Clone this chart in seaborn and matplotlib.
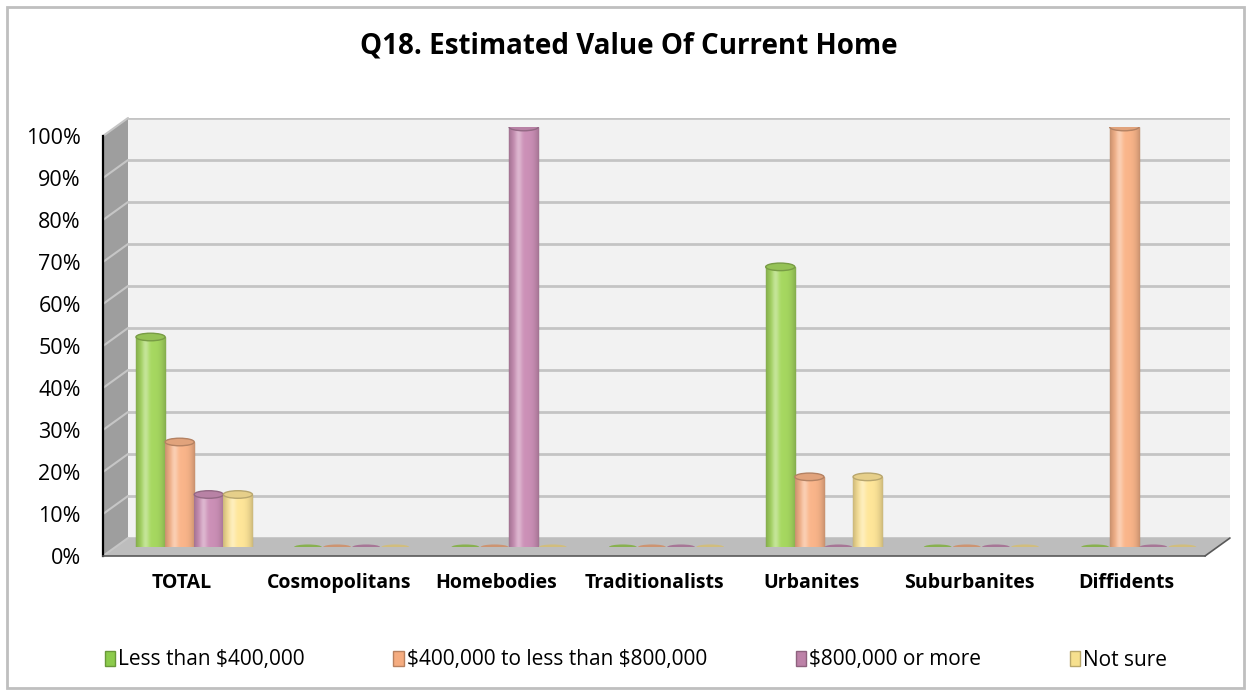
import numpy as np
import matplotlib
matplotlib.use("Agg")
import matplotlib.pyplot as plt
from matplotlib.patches import Polygon, Rectangle, Ellipse, Patch
from matplotlib.colors import to_rgb
import seaborn as sns
import pandas as pd

# chart data
categories = ['TOTAL', 'Cosmopolitans', 'Homebodies', 'Traditionalists',
              'Urbanites', 'Suburbanites', 'Diffidents']
series = ['Less than $400,000', '$400,000 to less than $800,000',
          '$800,000 or more', 'Not sure']
less_400k = [0.50, 0, 0, 0, 0.667, 0, 0]
from_400k_to_800k = [0.25, 0, 0, 0, 0.167, 0, 1.00]
over_800k = [0.125, 0, 1.00, 0, 0, 0, 0]
not_sure = [0.125, 0, 0, 0, 0.167, 0, 0]
y_ticks = [0, 0.1, 0.2, 0.3, 0.4, 0.5, 0.6, 0.7, 0.8, 0.9, 1.0]
y_tick_labels = ['0%', '10%', '20%', '30%', '40%', '50%', '60%', '70%',
                 '80%', '90%', '100%']

bar_colors = ['#A6D860', '#FAB58A', '#CC90B7', '#FFE699']
legend_colors = ['#8CCB4C', '#F5AC80', '#BD82A8', '#F6E08E']

df = pd.DataFrame({
    'category': categories * 4,
    'series': [s for s in series for _ in categories],
    'value': less_400k + from_400k_to_800k + over_800k + not_sure,
})

sns.set_theme(style='white')
plt.rcParams['font.family'] = ['Open Sans', 'DejaVu Sans']
plt.rcParams['text.parse_math'] = False  # keep the $ signs literal
plt.rcParams['text.color'] = 'black'

W, H = 1251, 695
fig = plt.figure(figsize=(W / 100, H / 100), dpi=100)
fig.patch.set_facecolor('white')


def px_axes(left, top, right, bottom, **kw):
    return fig.add_axes([left / W, 1 - bottom / H, (right - left) / W, (bottom - top) / H], **kw)


# 3d box geometry (pixels): front plane, back wall, depth offset
fx0, fx1, fy0, fy1 = 103, 1205, 556, 136
dx, dy = 25, -18

# back wall with gridlines
ax_back = px_axes(fx0 + dx, fy1 + dy, fx1 + dx, fy0 + dy, zorder=0)
ax_back.set_facecolor('#F2F2F2')
ax_back.set_xlim(0, 1)
ax_back.set_ylim(0, 1)
ax_back.set_yticks(y_ticks)
ax_back.set_xticks([])
ax_back.tick_params(length=0, labelleft=False)
ax_back.grid(axis='y', color='#C4C4C4', linewidth=2)
for s in ax_back.spines.values():
    s.set_visible(False)

# overlay in pixel coordinates: side wall, floor, outer border
ov = fig.add_axes([0, 0, 1, 1], zorder=1)
ov.set_xlim(0, W)
ov.set_ylim(H, 0)
ov.axis('off')
ov.add_patch(Polygon([(fx0, fy1), (fx0 + dx, fy1 + dy), (fx0 + dx, fy0 + dy), (fx0, fy0)],
                     closed=True, facecolor='#9E9E9E', edgecolor='none'))
for v in y_ticks:
    yf = fy0 - (fy0 - fy1) * v
    ov.plot([fx0, fx0 + dx], [yf, yf + dy], color='#C6C6C6', lw=1.5)
ov.add_patch(Polygon([(fx0, fy0), (fx0 + dx, fy0 + dy), (fx1 + dx, fy0 + dy), (fx1, fy0)],
                     closed=True, facecolor='#BDBDBD', edgecolor='none'))
ov.plot([fx1, fx1 + dx], [fy0, fy0 + dy], color='#595959', lw=1.2)
ov.add_patch(Rectangle((7, 7), 1237, 681, facecolor='none', edgecolor='#BFBFBF', lw=2))

# bars at mid depth
ax = px_axes(fx0 + dx / 2, fy1 + dy / 2, fx1 + dx / 2, fy0 + dy / 2, zorder=2)
ax.patch.set_alpha(0)
sns.barplot(data=df, x='category', y='value', hue='series', palette=bar_colors,
            width=0.74, saturation=1, legend=False, ax=ax)

for p in list(ax.patches):
    fc = np.array(to_rgb(p.get_facecolor()))
    x0, w, h = p.get_x(), p.get_width(), p.get_height()
    if h <= 0:
        p.set_visible(False)
        ax.add_patch(Ellipse((x0 + w / 2, 0), w * 0.95, 0.012,
                             facecolor=fc * 0.82, edgecolor='none', zorder=3))
        continue
    p.set_edgecolor(fc * 0.72)
    p.set_linewidth(1)
    t = np.linspace(0, 1, 80)
    shade = 0.80 + 0.20 * (1 - np.abs(2 * t - 1) ** 3)
    col = fc[None, :] * shade[:, None]
    hl = 0.35 * np.exp(-((t - 0.32) / 0.12) ** 2)
    col = col + (1 - col) * hl[:, None]
    im = ax.imshow(col[None, :, :], extent=(x0, x0 + w, 0, h), aspect='auto',
                   zorder=p.get_zorder() + 0.1)
    im.set_clip_path(p)
    ax.add_patch(Ellipse((x0 + w / 2, h), w, 0.018, facecolor=fc * 0.9,
                         edgecolor=fc * 0.72, lw=1, zorder=p.get_zorder() + 0.2))

ax.set_xlim(-0.5, len(categories) - 0.5)
ax.set_ylim(0, 1)
ax.axis('off')

# front axis with ticks and labels
ax_f = px_axes(fx0, fy1, fx1, fy0, zorder=3)
ax_f.patch.set_alpha(0)
ax_f.set_xlim(-0.5, len(categories) - 0.5)
ax_f.set_ylim(0, 1)
ax_f.set_yticks(y_ticks)
ax_f.set_yticklabels(y_tick_labels, fontsize=15.5, color='#000000')
ax_f.set_xticks(range(len(categories)))
ax_f.set_xticklabels(categories, fontsize=14, fontweight='bold', color='#000000')
ax_f.set_xticks(np.arange(-0.5, len(categories), 1), minor=True)
ax_f.tick_params(axis='x', which='major', length=0, pad=12)
ax_f.tick_params(axis='x', which='minor', length=6, width=1, color='#595959', direction='out')
ax_f.tick_params(axis='y', length=6, width=1, color='#404040', direction='out', pad=10)
ax_f.spines['top'].set_visible(False)
ax_f.spines['right'].set_visible(False)
ax_f.spines['left'].set_color('#000000')
ax_f.spines['left'].set_linewidth(1.6)
ax_f.spines['bottom'].set_color('#595959')
ax_f.spines['bottom'].set_linewidth(1.2)
ax_f.set_xlabel('')
ax_f.set_ylabel('')

fig.text(629 / W, 1 - 46 / H, 'Q18. Estimated Value Of Current Home',
         ha='center', va='center', fontsize=20, fontweight='bold', color='black')

handles = [Patch(facecolor=c, edgecolor=np.array(to_rgb(c)) * 0.75, label=s)
           for c, s in zip(legend_colors, series)]
fig.legend(handles=handles, loc='center', bbox_to_anchor=(636 / W, 1 - 660 / H),
           ncol=4, frameon=False, fontsize=15, handlelength=0.5, handleheight=0.75,
           handletextpad=0.15, columnspacing=4.25, labelcolor='black')

fig.savefig('out.png', dpi=100)
